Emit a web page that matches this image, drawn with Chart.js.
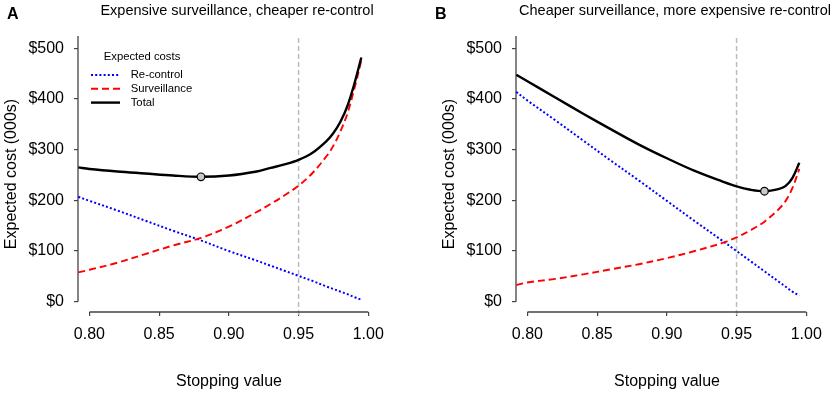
<!DOCTYPE html>
<html><head><meta charset="utf-8">
<script src="https://cdn.jsdelivr.net/npm/chart.js@4.4.1/dist/chart.umd.min.js"></script>
<style>
html,body{margin:0;padding:0;background:#fff;overflow:hidden;width:835px;height:394px;}
canvas{position:absolute;top:0;}
#panelA{left:0;} #panelB{left:418px;}
</style></head><body>
<canvas id="panelA" width="417" height="394"></canvas>
<canvas id="panelB" width="417" height="394"></canvas>
<script>
const FONT = "'Liberation Sans', Arial, Helvetica, sans-serif";

// ---- data ----
const xTicks = [0.80, 0.85, 0.90, 0.95, 1.00];
const yTicks = [0, 100, 200, 300, 400, 500];
const seriesLabels = ['Re-control', 'Surveillance', 'Total'];
const legendTitle = 'Expected costs';
const xTitle = 'Stopping value';
const yTitle = 'Expected cost (000s)';
const panelTitles = ['Expensive surveillance, cheaper re-control', 'Cheaper surveillance, more expensive re-control'];
const panelLetters = ['A', 'B'];
const thresholdStop = 0.95;
const optimumStop = [0.88, 0.97];
const optimumCost = [246.5, 218];

const stopA         = [0.792, 0.80, 0.82, 0.84, 0.86, 0.88, 0.90, 0.92, 0.93, 0.94, 0.95, 0.96, 0.97, 0.975, 0.98, 0.985, 0.99, 0.995];
const recontrolA    = [207, 199, 180, 160, 140, 121, 100, 81, 71, 61, 51, 41, 30, 25, 20, 15, 9, 4];
const surveillanceA = [58, 63, 77, 94, 111, 126, 148, 177, 193, 210, 229, 254, 287, 308, 336, 371, 420, 476];
const totalA        = [265, 262, 257, 253, 249, 246.5, 249, 257, 264, 271, 280, 294, 317, 333, 355, 386, 430, 482];

const stopB         = [0.792, 0.80, 0.82, 0.84, 0.86, 0.88, 0.90, 0.92, 0.94, 0.95, 0.96, 0.97, 0.98, 0.985, 0.99, 0.995];
const recontrolB    = [414, 397, 358, 318, 278, 239, 199, 159, 120, 100, 80, 60, 40, 30, 20, 12];
const surveillanceB = [33, 38, 45, 54, 64, 74, 86, 100, 116, 127, 141, 158, 182, 198, 224, 262];
const totalB        = [448, 435, 403, 371, 340, 310, 283, 258, 237, 227.5, 221, 218, 222, 228, 244, 274];

const xRange = [0.7918, 1.0084];
const yRange = [-20.3, 524.3];

// ---- decorations drawn through the chart's scales ----
const decor = {
  id: 'panelDecor',
  beforeDatasetsDraw(chart, args, opts) {
    const {ctx, chartArea: ca, scales: {x, y}} = chart;
    ctx.save();
    const tx = x.getPixelForValue(thresholdStop);
    ctx.strokeStyle = '#bdbdbd'; ctx.lineWidth = 1.5; ctx.setLineDash([5, 3]);
    ctx.beginPath(); ctx.moveTo(tx, ca.top + 2); ctx.lineTo(tx, ca.bottom + 3); ctx.stroke();
    ctx.setLineDash([]);
    ctx.strokeStyle = '#444'; ctx.lineWidth = 1.3;
    ctx.beginPath();
    ctx.moveTo(ca.left, ca.top); ctx.lineTo(ca.left, y.getPixelForValue(yTicks[0]));
    ctx.moveTo(x.getPixelForValue(xTicks[0]), ca.bottom);
    ctx.lineTo(x.getPixelForValue(xTicks[xTicks.length - 1]), ca.bottom);
    ctx.stroke();
    ctx.restore();
  },
  afterDraw(chart, args, opts) {
    const {ctx, chartArea: ca} = chart;
    ctx.save();
    ctx.fillStyle = '#000';
    ctx.textBaseline = 'alphabetic';
    ctx.textAlign = 'center';
    ctx.font = `14.5px ${FONT}`;
    ctx.fillText(panelTitles[opts.idx], (ca.left + ca.right) / 2 + 8, 15);
    ctx.textAlign = 'left';
    ctx.font = `bold 16px ${FONT}`;
    ctx.fillText(panelLetters[opts.idx], opts.letterX, 19);
    if (opts.legend) {
      const lx = ca.left + 13, ly = ca.top + 21;
      ctx.font = `11.3px ${FONT}`;
      ctx.textBaseline = 'middle';
      ctx.textAlign = 'center';
      ctx.fillText(legendTitle, lx + 51, ly);
      ctx.textAlign = 'left';
      seriesLabels.forEach((lab, k) => {
        const d = chart.data.datasets.find(ds => ds.label === lab);
        const yy = ly + 18 + k * 13.8;
        ctx.strokeStyle = d.borderColor; ctx.lineWidth = d.borderWidth;
        ctx.setLineDash(d.borderDash || []);
        ctx.beginPath(); ctx.moveTo(lx, yy); ctx.lineTo(lx + 29, yy); ctx.stroke();
        ctx.setLineDash([]);
        ctx.fillStyle = '#000';
        ctx.fillText(lab, lx + 39.7, yy);
      });
    }
    ctx.restore();
  }
};

function makePanel(canvasId, i, stop, recon, surv, total, cfg) {
  const pts = ys => stop.map((s, k) => ({x: s, y: ys[k]}));
  return new Chart(document.getElementById(canvasId), {
    type: 'line',
    data: {
      datasets: [
        {label: 'Optimum', type: 'scatter', data: [{x: optimumStop[i], y: optimumCost[i]}],
         pointRadius: 3.8, pointBackgroundColor: '#c8c8c8', pointBorderColor: '#000', pointBorderWidth: 1.2, order: 0},
        {label: seriesLabels[2], data: pts(total), borderColor: '#000000', borderWidth: 2.4, borderDash: [], order: 1},
        {label: seriesLabels[1], data: pts(surv), borderColor: '#ff0000', borderWidth: 1.9, borderDash: [7, 4], order: 2},
        {label: seriesLabels[0], data: pts(recon), borderColor: '#0000ff', borderWidth: 2, borderDash: [2, 2.2], order: 3}
      ]
    },
    options: {
      responsive: false, animation: false, devicePixelRatio: 1, events: [],
      layout: {padding: {left: cfg.padL, right: cfg.padR, top: 36, bottom: 0}},
      elements: {line: {tension: 0.35, fill: false, borderCapStyle: 'butt'}, point: {radius: 0}},
      plugins: {legend: {display: false}, tooltip: {enabled: false},
                panelDecor: {idx: i, legend: cfg.legend, letterX: cfg.letterX}},
      scales: {
        x: {
          type: 'linear', min: xRange[0], max: xRange[1],
          afterBuildTicks: s => { s.ticks = xTicks.map(v => ({value: v})); },
          afterFit: s => { s.height = 82; },
          ticks: {font: {family: FONT, size: 16}, color: '#000', padding: 9, autoSkip: false, maxRotation: 0,
                  callback: v => Number(v).toFixed(2)},
          grid: {drawOnChartArea: false, drawTicks: true, tickLength: 4, color: '#444', lineWidth: 1.2},
          border: {display: false},
          title: {display: true, text: xTitle, font: {family: FONT, size: 16}, color: '#000', padding: {top: 0, bottom: 3}}
        },
        y: {
          type: 'linear', min: yRange[0], max: yRange[1],
          afterBuildTicks: s => { s.ticks = yTicks.map(v => ({value: v})); },
          afterFit: s => { s.width = 78; },
          ticks: {font: {family: FONT, size: 16}, color: '#000', padding: 10, autoSkip: false,
                  callback: v => '$' + v},
          grid: {drawOnChartArea: false, drawTicks: true, tickLength: 4, color: '#444', lineWidth: 1.2},
          border: {display: false},
          title: {display: true, text: yTitle, font: {family: FONT, size: 16}, color: '#000', padding: {top: 1.5, bottom: 0}}
        }
      }
    },
    plugins: [decor]
  });
}

makePanel('panelA', 0, stopA, recontrolA, surveillanceA, totalA, {padL: 0, padR: 37, legend: true, letterX: 7});
makePanel('panelB', 1, stopB, recontrolB, surveillanceB, totalB, {padL: 20, padR: 17, legend: false, letterX: 17});
</script>
</body></html>
